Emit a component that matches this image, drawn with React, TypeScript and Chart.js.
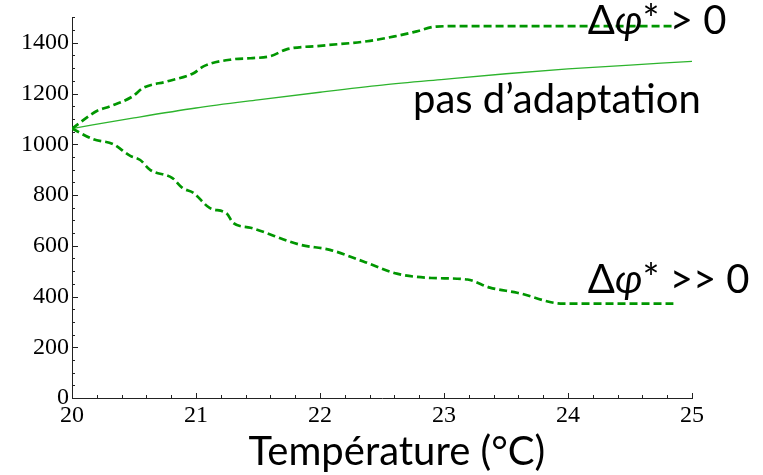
import React, { useEffect, useRef } from "react";
import { Chart, registerables } from "chart.js";

Chart.register(...registerables);

// Upper dashed curve (Δφ* > 0)
const upperT = [20, 20.2, 20.31, 20.49, 20.57, 20.77, 20.98, 21.06, 21.3, 21.44, 21.6, 21.73, 22.0, 22.38, 22.6, 22.78, 22.94, 23.2, 24.0, 24.87];
const upperV = [1062, 1131, 1150, 1189, 1221, 1248, 1280, 1307, 1335, 1339, 1347, 1374, 1388, 1406, 1425, 1445, 1464, 1466, 1466, 1466];

// Solid curve (pas d'adaptation)
const solidT = [20, 20.5, 21, 21.5, 22, 22.5, 23, 23.5, 24, 24.5, 25];
const solidV = [1062, 1104, 1143, 1175, 1205, 1233, 1256, 1278, 1297, 1312, 1327];

// Lower dashed curve (Δφ* >> 0)
const lowerT = [20, 20.17, 20.33, 20.47, 20.55, 20.63, 20.81, 20.89, 20.98, 21.11, 21.25, 21.3, 21.44, 21.84, 22.08, 22.35, 22.62, 22.9, 23.19, 23.37, 23.59, 23.96, 24.85];
const lowerV = [1062, 1020, 1001, 954, 938, 899, 867, 828, 808, 749, 726, 690, 671, 604, 584, 538, 490, 473, 467, 435, 415, 372, 372];

const xTicks = [20, 21, 22, 23, 24, 25];
const yTicks = [0, 200, 400, 600, 800, 1000, 1200, 1400];
const xRange = [20, 25];
const yRange = [0, 1500];
const xMinorStep = 0.2;
const yMinorStep = 50;

const xTitle = "Température (°C)";
const labelUpper = [{ t: "Δ" }, { t: "φ", it: true }, { t: "* > 0" }];
const labelSolid = [{ t: "pas d’adaptation" }];
const labelLower = [{ t: "Δ" }, { t: "φ", it: true }, { t: "* >> 0" }];
const labelAnchors = [
  { parts: labelUpper, x: 24.16, y: 1433 },
  { parts: labelSolid, x: 22.75, y: 1123 },
  { parts: labelLower, x: 24.16, y: 415 },
];

const BIG_FONT = 'Lato, "Open Sans", sans-serif';
const BIG_SIZE = 40;
const TICK_FONT = '"Liberation Serif", "Times New Roman", serif';

const toPts = (xs: number[], ys: number[]) => xs.map((x, i) => ({ x, y: ys[i] }));

const decor = {
  id: "decor",
  afterDraw(chart: any) {
    const { ctx, chartArea, scales } = chart;
    const x = scales.x;
    const y = scales.y;
    ctx.save();
    ctx.strokeStyle = "#222";
    ctx.lineWidth = 1;
    // y ticks (inside)
    const ny = Math.round((yRange[1] - yRange[0]) / yMinorStep);
    for (let i = 0; i <= ny; i++) {
      const v = yRange[0] + i * yMinorStep;
      const py = Math.round(y.getPixelForValue(v)) + 0.5;
      const major = yTicks.includes(v);
      ctx.beginPath();
      ctx.moveTo(chartArea.left, py);
      ctx.lineTo(chartArea.left + (major ? 6 : 3), py);
      ctx.stroke();
    }
    // x ticks (inside)
    const nx = Math.round((xRange[1] - xRange[0]) / xMinorStep);
    for (let i = 0; i <= nx; i++) {
      const v = +(xRange[0] + i * xMinorStep).toFixed(4);
      const px = Math.round(x.getPixelForValue(v)) + 0.5;
      const major = xTicks.includes(v);
      ctx.beginPath();
      ctx.moveTo(px, chartArea.bottom);
      ctx.lineTo(px, chartArea.bottom - (major ? 5 : 3));
      ctx.stroke();
    }
    // text labels
    ctx.fillStyle = "#000";
    ctx.textBaseline = "alphabetic";
    ctx.textAlign = "left";
    for (const a of labelAnchors) {
      let px = x.getPixelForValue(a.x);
      const py = y.getPixelForValue(a.y);
      for (const p of a.parts as any[]) {
        ctx.font = `${p.it ? "italic " : ""}${BIG_SIZE}px ${BIG_FONT}`;
        ctx.fillText(p.t, px, py);
        px += ctx.measureText(p.t).width;
      }
    }
    // x axis title
    ctx.font = `${BIG_SIZE}px ${BIG_FONT}`;
    ctx.textAlign = "center";
    ctx.fillText(xTitle, x.getPixelForValue(22.62), chartArea.bottom + 67);
    ctx.restore();
  },
};

export default function App() {
  const ref = useRef<HTMLCanvasElement>(null);
  useEffect(() => {
    if (!ref.current) return;
    const chart = new Chart(ref.current, {
      type: "line",
      data: {
        datasets: [
          {
            data: toPts(upperT, upperV),
            borderColor: "rgb(0,150,0)",
            borderWidth: 2.7,
            borderDash: [8, 4],
            pointRadius: 0,
            cubicInterpolationMode: "monotone",
          },
          {
            data: toPts(solidT, solidV),
            borderColor: "rgb(45,180,45)",
            borderWidth: 1.3,
            pointRadius: 0,
            cubicInterpolationMode: "monotone",
          },
          {
            data: toPts(lowerT, lowerV),
            borderColor: "rgb(0,150,0)",
            borderWidth: 2.7,
            borderDash: [8, 4],
            pointRadius: 0,
            cubicInterpolationMode: "monotone",
          },
        ],
      },
      options: {
        responsive: false,
        animation: false,
        layout: { padding: { top: 15, right: 71, left: 0, bottom: 0 } },
        plugins: { legend: { display: false }, tooltip: { enabled: false } },
        scales: {
          x: {
            type: "linear",
            min: xRange[0],
            max: xRange[1],
            afterBuildTicks: (s: any) => {
              s.ticks = xTicks.map((v) => ({ value: v }));
            },
            afterFit: (s: any) => {
              s.height = 77;
            },
            grid: { display: false, drawTicks: false },
            border: { display: true, color: "#222", width: 1 },
            ticks: {
              color: "#000",
              padding: 3,
              maxRotation: 0,
              autoSkip: false,
              callback: (v: any) => String(v),
              font: { family: TICK_FONT, size: 24 },
            },
          },
          y: {
            type: "linear",
            min: yRange[0],
            max: yRange[1],
            afterBuildTicks: (s: any) => {
              s.ticks = yTicks.map((v) => ({ value: v }));
            },
            afterFit: (s: any) => {
              s.width = 72;
            },
            grid: { display: false, drawTicks: false },
            border: { display: true, color: "#222", width: 1 },
            ticks: {
              color: "#000",
              padding: 3,
              autoSkip: false,
              callback: (v: any) => String(v),
              font: { family: TICK_FONT, size: 24 },
            },
          },
        },
      },
      plugins: [decor],
    });
    return () => chart.destroy();
  }, []);
  return (
    <canvas
      ref={ref}
      width={763}
      height={475}
      style={{ position: "absolute", left: 0, top: 0, width: 763, height: 475 }}
    />
  );
}
